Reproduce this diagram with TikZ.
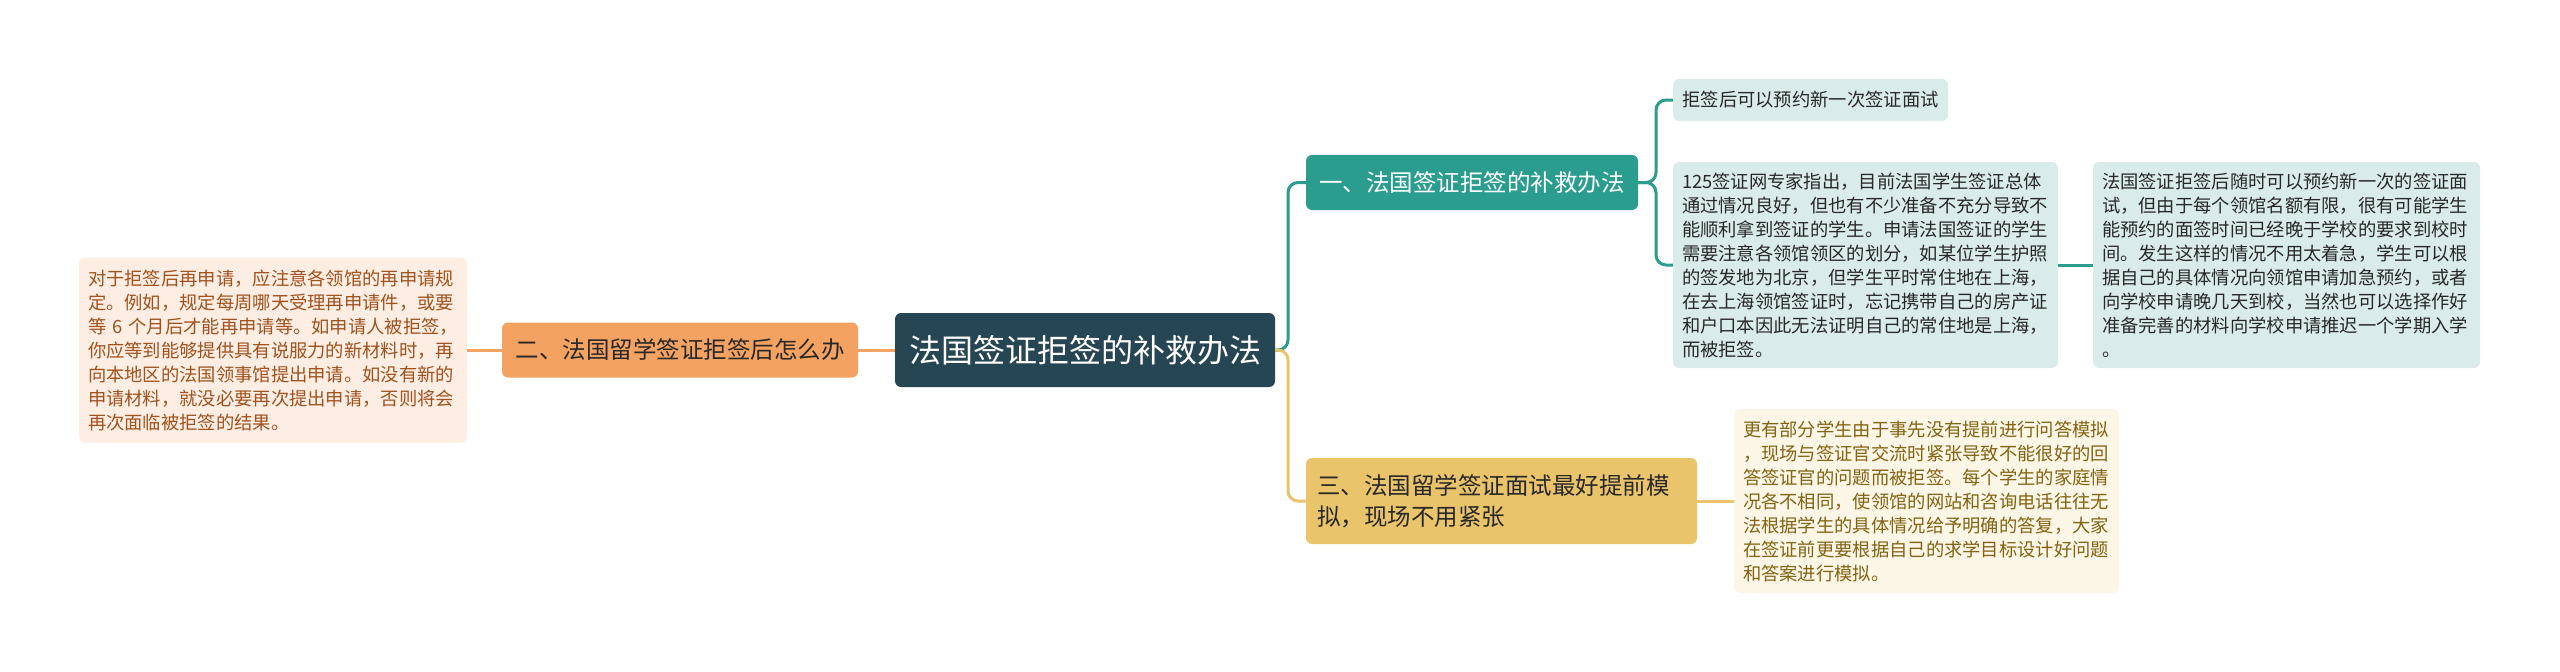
\documentclass[tikz,border=0pt]{standalone}
\usepackage{fontspec}
\usepackage{tikz}
\usepackage{xcolor}
\newfontfamily\cjk{Noto Sans CJK SC}
\usetikzlibrary{positioning}

\definecolor{rootfill}{RGB}{38,70,83}
\definecolor{tealfill}{RGB}{42,157,143}
\definecolor{tealnote}{RGB}{218,236,234}
\definecolor{orangefill}{RGB}{244,162,97}
\definecolor{orangenote}{RGB}{253,237,226}
\definecolor{orangetext}{RGB}{160,82,30}
\definecolor{yellowfill}{RGB}{233,196,106}
\definecolor{yellownote}{RGB}{252,246,230}
\definecolor{yellowtext}{RGB}{132,99,18}
\definecolor{darktext}{RGB}{40,40,40}

\tikzset{
  rootbox/.style={rounded corners=6pt, fill=rootfill, text=white,
    font=\cjk\fontsize{32}{40}\selectfont, minimum width=380pt, minimum height=74pt},
  topicbox/.style={rounded corners=6pt, text=darktext,
    font=\cjk\fontsize{23.5}{31}\selectfont, minimum height=55pt},
  notebox/.style={rounded corners=6pt, text=darktext,
    font=\cjk\fontsize{18.3}{24}\selectfont, align=left, inner xsep=9pt},
  link/.style={line width=3pt, rounded corners=10pt},
}

\begin{document}
\begin{tikzpicture}[x=1pt, y=-1pt]
  \useasboundingbox (0,0) rectangle (2560,672);

  \node[rootbox] (root) at (1085,350) {法国签证拒签的补救办法};
  \node[topicbox, fill=orangefill, minimum width=356pt] (two) [left of=root, node distance=405pt] {二、法国留学签证拒签后怎么办};
  \node[notebox, fill=orangenote, text=orangetext, text width=370pt, minimum height=185pt] (twonote) [left of=two, node distance=407pt]
    {对于拒签后再申请，应注意各领馆的再申请规\\
     定。例如，规定每周哪天受理再申请件，或要\\
     等 6 个月后才能再申请等。如申请人被拒签，\\
     你应等到能够提供具有说服力的新材料时，再\\
     向本地区的法国领事馆提出申请。如没有新的\\
     申请材料，就没必要再次提出申请，否则将会\\
     再次面临被拒签的结果。};

  \node[topicbox, fill=tealfill, text=white, minimum width=332pt] (one) at (1472,182.5) {一、法国签证拒签的补救办法};
  \node[notebox, fill=tealnote, minimum width=275pt, minimum height=42pt, align=center] (onea) at (1810.5,100) {拒签后可以预约新一次签证面试};
  \node[notebox, fill=tealnote, text width=367pt, minimum height=206pt] (oneb) at (1865.5,265)
    {125签证网专家指出，目前法国学生签证总体\\
     通过情况良好，但也有不少准备不充分导致不\\
     能顺利拿到签证的学生。申请法国签证的学生\\
     需要注意各领馆领区的划分，如某位学生护照\\
     的签发地为北京，但学生平时常住地在上海，\\
     在去上海领馆签证时，忘记携带自己的房产证\\
     和户口本因此无法证明自己的常住地是上海，\\
     而被拒签。};
  \node[notebox, fill=tealnote, text width=369pt, minimum height=206pt] (onec) [right of=oneb, node distance=421pt]
    {法国签证拒签后随时可以预约新一次的签证面\\
     试，但由于每个领馆名额有限，很有可能学生\\
     能预约的面签时间已经晚于学校的要求到校时\\
     间。发生这样的情况不用太着急，学生可以根\\
     据自己的具体情况向领馆申请加急预约，或者\\
     向学校申请晚几天到校，当然也可以选择作好\\
     准备完善的材料向学校申请推迟一个学期入学\\
     。};

  \node[topicbox, fill=yellowfill, minimum width=391pt, minimum height=86pt, text width=369pt, align=left, inner xsep=11pt] (three) at (1501.5,501)
    {三、法国留学签证面试最好提前模\\拟，现场不用紧张};
  \node[notebox, fill=yellownote, text=yellowtext, text width=367pt, minimum height=184pt] (threenote) [right of=three, node distance=425pt]
    {更有部分学生由于事先没有提前进行问答模拟\\
     ，现场与签证官交流时紧张导致不能很好的回\\
     答签证官的问题而被拒签。每个学生的家庭情\\
     况各不相同，使领馆的网站和咨询电话往往无\\
     法根据学生的具体情况给予明确的答复，大家\\
     在签证前更要根据自己的求学目标设计好问题\\
     和答案进行模拟。};

  \coordinate (rj) at (1288,350);
  \coordinate (oj) at (1656,182.5);

  \draw[link, orangefill] (root.west) -- (two.east);
  \draw[link, orangefill] (two.west) -- (twonote.east);
  \draw[link, tealfill] (root.east) -- (rj) |- (one.west);
  \draw[link, yellowfill] (root.east) -- (rj) |- (three.west);
  \draw[link, tealfill] (one.east) -- (oj) |- (onea.west);
  \draw[link, tealfill] (one.east) -- (oj) |- (oneb.west);
  \draw[link, tealfill] (oneb.east) -- (onec.west);
  \draw[link, yellowfill] (three.east) -- (threenote.west);
\end{tikzpicture}
\end{document}
